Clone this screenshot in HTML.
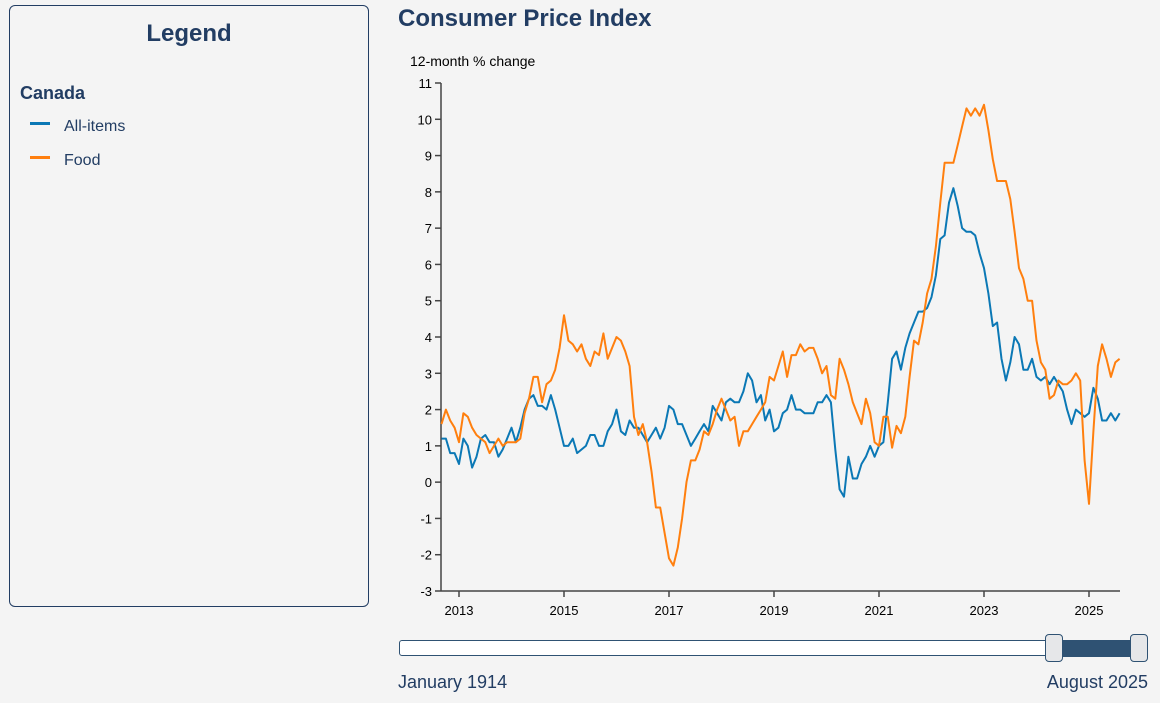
<!DOCTYPE html>
<html><head><meta charset="utf-8">
<style>
body{margin:0;width:1160px;height:703px;background:#f4f4f4;font-family:"Liberation Sans","DejaVu Sans",sans-serif;position:relative;overflow:hidden}
#legend{position:absolute;left:9px;top:5px;width:358px;height:600px;border:1px solid #223d63;border-radius:6px;box-sizing:content-box}
#legend h2{margin:0;position:absolute;top:14px;width:100%;text-align:center;font-size:24px;color:#223d63;font-weight:bold}
.grp{position:absolute;left:10px;top:77px;font-size:18px;font-weight:bold;color:#223d63}
.ent{position:absolute;left:20px;font-size:16px;color:#223d63}
.ent span.sw{display:inline-block;width:20px;height:3px;vertical-align:middle;margin-right:14px;position:relative;top:-3px}
#title{position:absolute;left:398px;top:5px;font-size:24px;font-weight:bold;color:#223d63;margin:0}
svg{position:absolute;left:0;top:0}
#track{position:absolute;left:399px;top:640px;width:749px;height:16px;background:#fff;border:1px solid #2f5273;border-radius:3px;box-sizing:border-box}
#fill{position:absolute;left:1062px;top:640px;width:72px;height:17px;background:#2f5273}
.handle{position:absolute;top:634px;width:18px;height:28px;background:#e6e7e9;border:1px solid #2f5273;border-radius:4px;box-sizing:border-box}
.lbl{position:absolute;top:672px;font-size:18px;color:#223d63}
</style></head><body>
<div id="legend">
<h2>Legend</h2>
<div class="grp">Canada</div>
<div class="ent" style="top:112px"><span class="sw" style="background:#0b78b5"></span>All-items</div>
<div class="ent" style="top:146px"><span class="sw" style="background:#ff7f0e"></span>Food</div>
</div>
<h1 id="title">Consumer Price Index</h1>
<svg id="chart" width="1160" height="703"></svg>
<div id="track"></div>
<div id="fill"></div>
<div class="handle" style="left:1045px"></div>
<div class="handle" style="left:1130px"></div>
<div class="lbl" style="left:398px">January 1914</div>
<div class="lbl" style="right:12px">August 2025</div>
<script>
const startYear = 2012, startMonth = 8; // Sep 2012 (0-based month)
const allItems = [1.2,1.2,0.8,0.8,
0.5,1.2,1.0,0.4,0.7,1.2,1.3,1.1,1.1,0.7,0.9,1.2,
1.5,1.1,1.5,2.0,2.3,2.4,2.1,2.1,2.0,2.4,2.0,1.5,
1.0,1.0,1.2,0.8,0.9,1.0,1.3,1.3,1.0,1.0,1.4,1.6,
2.0,1.4,1.3,1.7,1.5,1.5,1.3,1.1,1.3,1.5,1.2,1.5,
2.1,2.0,1.6,1.6,1.3,1.0,1.2,1.4,1.6,1.4,2.1,1.9,
1.7,2.2,2.3,2.2,2.2,2.5,3.0,2.8,2.2,2.4,1.7,2.0,
1.4,1.5,1.9,2.0,2.4,2.0,2.0,1.9,1.9,1.9,2.2,2.2,
2.4,2.2,0.9,-0.2,-0.4,0.7,0.1,0.1,0.5,0.7,1.0,0.7,
1.0,1.1,2.2,3.4,3.6,3.1,3.7,4.1,4.4,4.7,4.7,4.8,
5.1,5.7,6.7,6.8,7.7,8.1,7.6,7.0,6.9,6.9,6.8,6.3,
5.9,5.2,4.3,4.4,3.4,2.8,3.3,4.0,3.8,3.1,3.1,3.4,
2.9,2.8,2.9,2.7,2.9,2.7,2.5,2.0,1.6,2.0,1.9,1.8,
1.9,2.6,2.3,1.7,1.7,1.9,1.7,1.9];
const food = [1.6,2.0,1.7,1.5,
1.1,1.9,1.8,1.5,1.3,1.2,1.1,0.8,1.0,1.2,1.0,1.1,
1.1,1.1,1.2,1.9,2.3,2.9,2.9,2.2,2.7,2.8,3.1,3.7,
4.6,3.9,3.8,3.6,3.8,3.4,3.2,3.6,3.5,4.1,3.4,3.7,
4.0,3.9,3.6,3.2,1.8,1.3,1.6,1.1,0.3,-0.7,-0.7,-1.4,
-2.1,-2.3,-1.8,-1.0,0.0,0.6,0.6,0.9,1.4,1.3,1.6,2.0,
2.3,2.0,1.7,1.8,1.0,1.4,1.4,1.6,1.8,2.0,2.2,2.9,
2.8,3.2,3.6,2.9,3.5,3.5,3.8,3.6,3.7,3.7,3.4,3.0,
3.2,2.4,2.3,3.4,3.1,2.7,2.2,1.9,1.6,2.3,1.9,1.1,
1.0,1.8,1.8,0.95,1.55,1.35,1.8,2.9,3.9,3.8,4.4,5.2,
5.6,6.5,7.7,8.8,8.8,8.8,9.3,9.8,10.3,10.1,10.3,10.1,
10.4,9.7,8.9,8.3,8.3,8.3,7.8,6.9,5.9,5.6,5.0,5.0,
3.9,3.3,3.1,2.3,2.4,2.8,2.7,2.7,2.8,3.0,2.8,0.6,
-0.6,1.4,3.2,3.8,3.4,2.9,3.3,3.4];
const yTicks = [-3,-2,-1,0,1,2,3,4,5,6,7,8,9,10,11];
const xTickYears = [2013,2015,2017,2019,2021,2023,2025];
const yAxisLabel = "12-month % change";

const NS="http://www.w3.org/2000/svg";
const svg=document.getElementById('chart');
const X0=459, PXY=52.5, YB=591, YT=83, YMIN=-3, YMAX=11;
function xs(t){return X0+(t-2013)*PXY;}
function xm(i){return xs(startYear+(startMonth+i)/12);}
function ys(v){return YB-(v-YMIN)/(YMAX-YMIN)*(YB-YT);}
function mk(tag,attrs){const e=document.createElementNS(NS,tag);for(const k in attrs)e.setAttribute(k,attrs[k]);svg.appendChild(e);return e;}

const yl=mk('text',{x:410,y:66,'font-size':14,fill:'#000'});yl.textContent=yAxisLabel;


const ya=mk('line',{x1:441,x2:441,y1:YT,y2:YB,stroke:'#444','stroke-width':1.5});


const xa=mk('line',{x1:441,x2:1120,y1:YB,y2:YB,stroke:'#444','stroke-width':1.5});


yTicks.forEach(v=>{
 mk('line',{x1:435,x2:441,y1:ys(v),y2:ys(v),stroke:'#444','stroke-width':1.5});
 const t=mk('text',{x:432,y:ys(v)+5,'font-size':13,'text-anchor':'end',fill:'#000'});t.textContent=v;
 
 
});
xTickYears.forEach(y=>{
 mk('line',{x1:xs(y),x2:xs(y),y1:YB,y2:YB+6,stroke:'#444','stroke-width':1.5});
 const t=mk('text',{x:xs(y),y:YB+24,'font-size':13,'text-anchor':'middle',fill:'#000'});t.textContent=y;
 
 
});
function line(arr,color,name){
 const d=arr.map((v,i)=>(i?'L':'M')+xm(i).toFixed(1)+','+ys(v).toFixed(1)).join('');
 const p=mk('path',{d:d,fill:'none',stroke:color,'stroke-width':2,'stroke-linejoin':'round'});
 
 
}
line(allItems,'#0b78b5','all-items-line');
line(food,'#ff7f0e','food-line');
</script>
</body></html>
